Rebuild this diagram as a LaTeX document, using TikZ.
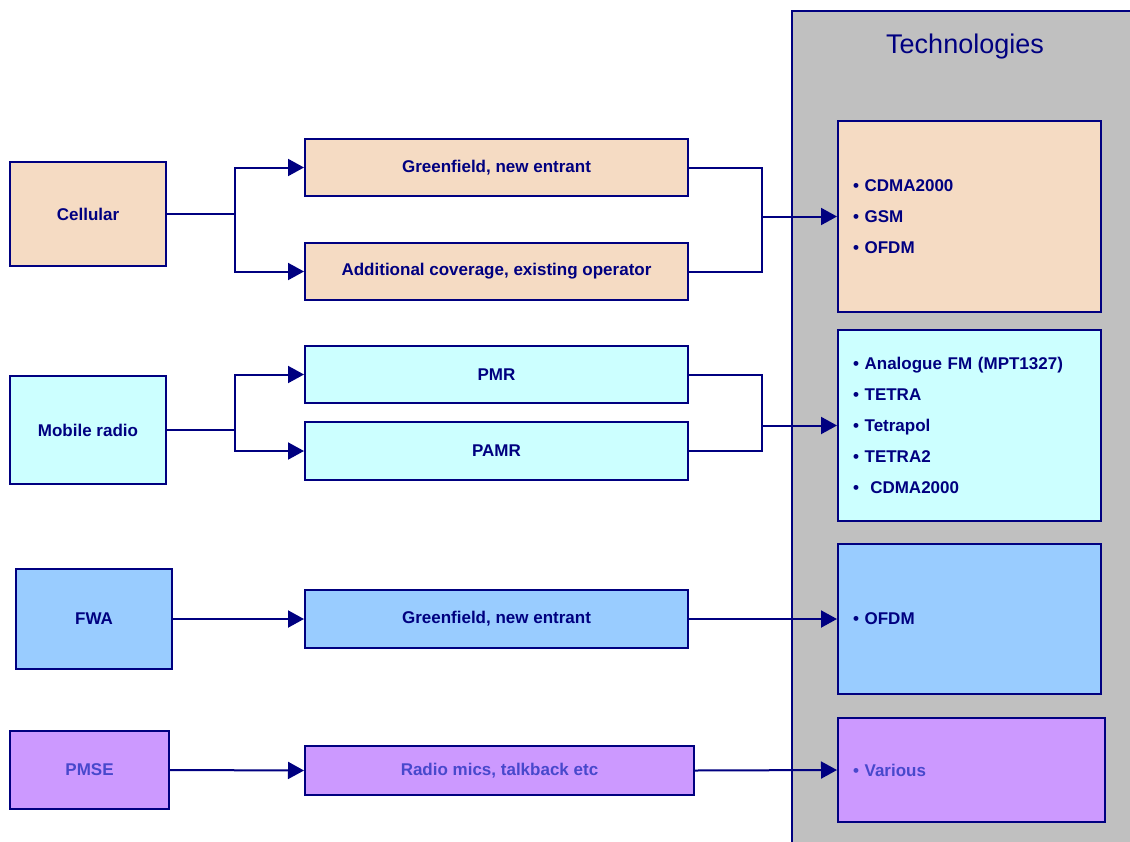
\documentclass[tikz,border=0pt]{standalone}
\usepackage{fontspec}
\setmainfont{Liberation Sans}
\usetikzlibrary{arrows.meta}
\definecolor{navy}{RGB}{0,0,128}
\definecolor{peach}{RGB}{245,219,195}
\definecolor{aqua}{RGB}{204,255,255}
\definecolor{skyblue}{RGB}{153,204,255}
\definecolor{lilac}{RGB}{204,153,255}
\definecolor{panelgray}{RGB}{192,192,192}
\definecolor{violettext}{RGB}{72,72,204}
\tikzset{
  box/.style={draw=navy, line width=2pt, text=navy, inner sep=0pt,
    font=\fontsize{17}{20}\selectfont\bfseries},
  techbox/.style={box, align=left, text width=233pt,
    font=\fontsize{17}{31}\selectfont\bfseries},
  link/.style={draw=navy, line width=2pt},
  arr/.style={link, -{Triangle[length=16pt,width=17pt]}},
}
\begin{document}
\begin{tikzpicture}[x=1pt,y=-1pt]
\useasboundingbox (0,0) rectangle (1130,841);

% technology panel
\draw[fill=panelgray, draw=navy, line width=2pt] (792,11) rectangle (1140,850);
\node[text=navy, font=\fontsize{27}{30}\selectfont] (title) at (965,47) {Technologies};

% services
\node[box, fill=peach, minimum width=156pt, minimum height=104pt] (cell) at (88,214) {Cellular};
\node[box, fill=aqua, minimum width=156pt, minimum height=108pt] (mob) at (88,430) {Mobile radio};
\node[box, fill=skyblue, minimum width=156pt, minimum height=100pt] (fwa) at (94,619) {FWA};
\node[box, fill=lilac, minimum width=159pt, minimum height=78pt, text=violettext] (pmse) at (89.5,770) {PMSE};

% market routes
\node[box, fill=peach, minimum width=383pt, minimum height=57pt] (g1) at (496.5,167.5) {Greenfield, new entrant};
\node[box, fill=peach, minimum width=383pt, minimum height=57pt] (g2) at (496.5,271.5) {Additional coverage, existing operator};
\node[box, fill=aqua, minimum width=383pt, minimum height=57pt] (pmr) at (496.5,374.5) {PMR};
\node[box, fill=aqua, minimum width=383pt, minimum height=58pt] (pamr) at (496.5,451) {PAMR};
\node[box, fill=skyblue, minimum width=383pt, minimum height=58pt] (g3) at (496.5,619) {Greenfield, new entrant};
\node[box, fill=lilac, minimum width=389pt, minimum height=49pt, text=violettext] (mics) at (499.5,770.5) {Radio mics, talkback etc};

% technologies
\node[techbox, fill=peach, minimum width=263pt, minimum height=191pt] (tcell) at (969.5,216.5)
  {• CDMA2000\\• GSM\\• OFDM};
\node[techbox, fill=aqua, minimum width=263pt, minimum height=191pt] (tmob) at (969.5,425.5)
  {• Analogue FM (MPT1327)\\• TETRA\\• Tetrapol\\• TETRA2\\•\ \ CDMA2000};
\node[techbox, fill=skyblue, minimum width=263pt, minimum height=150pt] (tfwa) at (969.5,619)
  {• OFDM};
\node[techbox, fill=lilac, minimum width=267pt, minimum height=104pt, text=violettext, text width=237pt] (tpmse) at (971.5,770)
  {• Various};

% cellular connectors
\coordinate (cs) at (235,214);
\draw[link] (cell.east) -- (cs);
\draw[arr] (cs) |- (g1.west);
\draw[arr] (cs) |- (g2.west);
\path (tcell.west) ++(-75,0) coordinate (cj);
\draw[link] (g1.east) -| (cj);
\draw[link] (g2.east) -| (cj);
\draw[arr] (cj) -- (tcell.west);

% mobile radio connectors
\coordinate (ms) at (235,430);
\draw[link] (mob.east) -- (ms);
\draw[arr] (ms) |- (pmr.west);
\draw[arr] (ms) |- (pamr.west);
\path (tmob.west) ++(-75,0) coordinate (mj);
\draw[link] (pmr.east) -| (mj);
\draw[link] (pamr.east) -| (mj);
\draw[arr] (mj) -- (tmob.west);

% FWA connectors
\draw[arr] (fwa.east) -- (g3.west);
\draw[arr] (g3.east) -- (tfwa.west);

% PMSE connectors
\draw[arr] (pmse.east) -- (mics.west);
\draw[arr] (mics.east) -- (tpmse.west);
\end{tikzpicture}
\end{document}
